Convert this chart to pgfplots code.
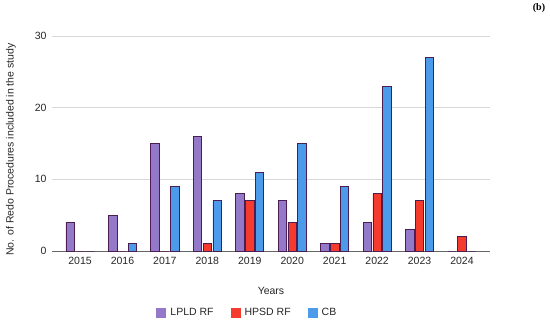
\documentclass[border=0pt]{standalone}
\usepackage{pgfplots}
\pgfplotsset{compat=1.18}
\usepackage{fontspec}
\setmainfont{Liberation Sans}
\newfontfamily\seriffont{Liberation Serif}
\definecolor{lpld}{HTML}{9479C8}
\definecolor{hpsd}{HTML}{F53B2E}
\definecolor{cb}{HTML}{4C9BEB}
\definecolor{edge}{HTML}{4A1E52}
\begin{document}
\begin{tikzpicture}
\useasboundingbox (-52pt,-71pt) rectangle (498pt,251pt);
\begin{axis}[
  at={(0pt,0pt)}, anchor=south west,
  scale only axis, width=438pt, height=215pt,
  xmin=-0.66, xmax=9.66, ymin=0, ymax=30,
  ybar=1.3pt, bar width=8.5pt,
  xtick={0,...,9},
  xticklabels={2015,2016,2017,2018,2019,2020,2021,2022,2023,2024},
  ytick={0,10,20,30},
  ymajorgrids, grid style={draw=black!15, line width=0.8pt},
  axis line style={draw=none},
  axis x line*=bottom, axis y line*=left,
  x axis line style={draw=black!60, line width=0.9pt},
  major tick length=0pt,
  tick label style={font=\fontsize{10.5}{12}\selectfont, text=black!85},
  /pgf/number format/assume math mode=true,
  yticklabel style={xshift=-2pt},
  xticklabel style={yshift=-3pt},
  xlabel={Years}, xlabel style={font=\fontsize{10.5}{12}\selectfont, text=black!85, yshift=-15pt},
  ylabel={No. of Redo Procedures included in the study},
  ylabel style={font=\fontsize{10.5}{12}\selectfont, text=black!85, yshift=12pt, xshift=-6pt},
  legend style={at={(0.446,-0.288)}, anchor=center, draw=none, legend columns=3,
    font=\fontsize{10.5}{12}\selectfont, text=black!85,
    /tikz/every odd column/.append style={column sep=2pt},
    /tikz/every even column/.append style={column sep=15pt}},
  legend image code/.code={\fill[#1, draw=none] (0pt,-5pt) rectangle (10pt,5pt);},
  every axis plot/.append style={draw=edge, line width=0.7pt},
  clip=false,
]
\addplot[fill=lpld, draw=edge] coordinates {(0,4) (1,5) (2,15) (3,16) (4,8) (5,7) (6,1) (7,4) (8,3) (9,0)};
\addplot[fill=hpsd, draw=edge] coordinates {(0,0) (1,0) (2,0) (3,1) (4,7) (5,4) (6,1) (7,8) (8,7) (9,2)};
\addplot[fill=cb, draw=edge] coordinates {(0,0) (1,1) (2,9) (3,7) (4,11) (5,15) (6,9) (7,23) (8,27) (9,0)};
\legend{LPLD RF, HPSD RF, CB}
\end{axis}
\node[font=\seriffont\bfseries\fontsize{10}{11}\selectfont, anchor=center] at (487pt,243pt) {(b)};
\end{tikzpicture}
\end{document}
